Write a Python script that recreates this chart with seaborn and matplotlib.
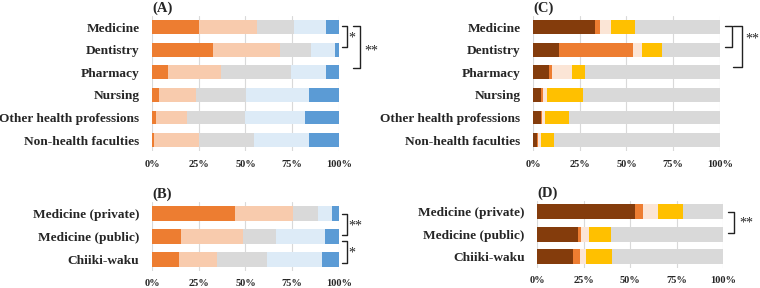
import numpy as np
import pandas as pd
import matplotlib
matplotlib.use("Agg")
import matplotlib.pyplot as plt
import seaborn as sns

# --- data (percent of respondents) ---
faculties = ["Medicine", "Dentistry", "Pharmacy", "Nursing",
             "Other health professions", "Non-health faculties"]
tracks = ["Medicine (private)", "Medicine (public)", "Chiiki-waku"]

# panel A: five response levels
a_lv1 = [25.4, 32.4, 8.4, 3.9, 2.0, 1.2]
a_lv2 = [31.0, 36.1, 28.6, 19.6, 16.7, 23.7]
a_lv3 = [19.6, 16.4, 37.2, 26.9, 31.1, 29.7]
a_lv4 = [17.2, 13.0, 19.0, 33.6, 32.2, 29.4]
a_lv5 = [6.8, 2.1, 6.8, 16.0, 18.0, 16.0]

# panel B
b_lv1 = [44.2, 15.4, 14.7]
b_lv2 = [31.1, 33.3, 20.0]
b_lv3 = [13.3, 17.7, 26.8]
b_lv4 = [7.5, 26.1, 29.4]
b_lv5 = [3.9, 7.5, 9.1]

# panel C
c_lv1 = [33.0, 13.8, 8.6, 4.3, 4.3, 2.0]
c_lv2 = [3.0, 39.8, 1.8, 0.9, 0.5, 0.9]
c_lv3 = [5.5, 4.6, 10.3, 2.5, 1.8, 1.6]
c_lv4 = [12.9, 10.7, 7.3, 18.9, 12.7, 6.6]
c_lv5 = [45.6, 31.1, 72.0, 73.4, 80.7, 88.9]

# panel D
d_lv1 = [52.5, 22.1, 19.5]
d_lv2 = [4.6, 1.7, 3.7]
d_lv3 = [7.9, 4.2, 3.1]
d_lv4 = [13.2, 11.6, 14.2]
d_lv5 = [21.8, 60.4, 59.5]

COLORS_AB = ["#ED7D31", "#F8CBAD", "#D9D9D9", "#DDEBF7", "#5B9BD5"]
COLORS_CD = ["#843C0C", "#ED7D31", "#FBE5D6", "#FFC000", "#D9D9D9"]

sns.set_theme(style="white")
plt.rcParams["font.family"] = ["Liberation Serif", "DejaVu Serif"]

fig = plt.figure(figsize=(7.6, 2.88), dpi=100)


def draw_panel(ax, cats, levels, colors, title, bar_h):
    cols = [f"lv{i+1}" for i in range(len(levels))]
    df = pd.DataFrame(np.array(levels).T, columns=cols)
    df["cat"] = cats
    cum = df[cols].cumsum(axis=1)
    # draw from the full bar down to the first segment so they overlay as a stack
    for i in reversed(range(len(levels))):
        sns.barplot(x=cum.iloc[:, i], y=df["cat"], order=cats, orient="h",
                    color=colors[i], saturation=1, width=bar_h, linewidth=0, ax=ax)
    n = len(cats)
    ax.set_xlim(0, 100)
    ax.set_ylim(n - 0.5, -0.5)
    ax.set_xticks([0, 25, 50, 75, 100])
    ax.set_xticklabels(["0%", "25%", "50%", "75%", "100%"], fontsize=7.5, fontweight="bold")
    ax.set_yticks(range(n))
    ax.set_yticklabels(cats, fontsize=9.6, fontweight="bold")
    ax.tick_params(axis="both", length=0)
    ax.tick_params(axis="y", pad=9)
    ax.tick_params(axis="x", pad=6)
    ax.set_xlabel("")
    ax.set_ylabel("")
    ax.grid(axis="x", color="#D9D9D9", lw=0.8)
    ax.set_axisbelow(True)
    sns.despine(ax=ax, left=True, bottom=True)
    ax.text(0, 1.01, title, transform=ax.transAxes,
            fontsize=10.5, fontweight="bold", ha="left", va="bottom")


def bracket(ax, x0, x1, y0, y1, label="", lx=0, ly=0):
    ax.plot([x0, x1, x1, x0], [y0, y0, y1, y1], color="#222222", lw=1, clip_on=False)
    if label:
        ax.text(lx, ly, label, fontsize=10, ha="center", va="center", clip_on=False)


ax_a = fig.add_axes([0.2, 0.4748, 0.246, 0.469])
draw_panel(ax_a, faculties, [a_lv1, a_lv2, a_lv3, a_lv4, a_lv5], COLORS_AB, "(A)", 0.62)
bracket(ax_a, 101.6, 104.2, -0.08, 0.88, "*", 107, 0.45)
bracket(ax_a, 107.5, 111.2, -0.08, 1.8, "**", 117.5, 1.05)

ax_b = fig.add_axes([0.2, 0.059, 0.246, 0.2396])
draw_panel(ax_b, tracks, [b_lv1, b_lv2, b_lv3, b_lv4, b_lv5], COLORS_AB, "(B)", 0.67)
bracket(ax_b, 101.6, 104.1, 0.02, 0.93, "**", 109, 0.55)
bracket(ax_b, 101.6, 104.1, 1.2, 2.16, "*", 107, 1.72)

ax_c = fig.add_axes([0.7013, 0.4748, 0.246, 0.469])
draw_panel(ax_c, faculties, [c_lv1, c_lv2, c_lv3, c_lv4, c_lv5], COLORS_CD, "(C)", 0.62)
bracket(ax_c, 102.7, 106.3, -0.07, 0.85)
bracket(ax_c, 107.0, 111.6, -0.07, 1.76, "**", 117.5, 0.5)

ax_d = fig.add_axes([0.7066, 0.069, 0.245, 0.2344])
draw_panel(ax_d, tracks, [d_lv1, d_lv2, d_lv3, d_lv4, d_lv5], COLORS_CD, "(D)", 0.67)
bracket(ax_d, 102.7, 105.9, 0.0, 0.93, "**", 112.5, 0.5)

fig.savefig("out.png", dpi=100)
plt.close()
